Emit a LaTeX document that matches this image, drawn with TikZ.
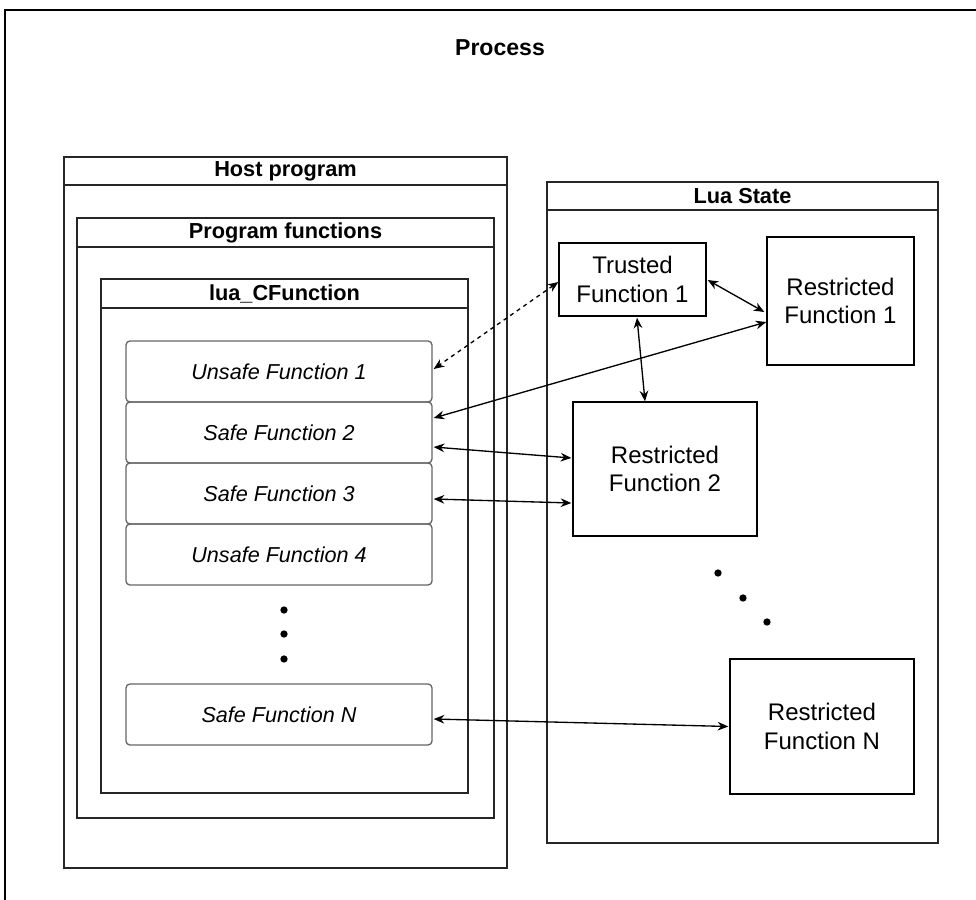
\documentclass[tikz,border=0pt]{standalone}
\usepackage{fontspec}
\setmainfont{Liberation Sans}
\usetikzlibrary{arrows.meta,fit,calc}
\begin{document}
\begin{tikzpicture}[x=0.75pt,y=-0.75pt,
  box/.style={draw=black, line width=1pt, inner sep=0pt},
  lane/.style={draw=black!85, line width=1pt, inner sep=0pt},
  hdrtxt/.style={inner sep=0pt, font=\fontsize{16.3}{19}\selectfont\bfseries},
  fn/.style={draw=black!60, line width=1pt, rounded corners=3pt, inner sep=0pt},
  fntxt/.style={inner sep=0pt, font=\fontsize{16.2}{19}\selectfont\itshape},
  rf/.style={draw=black, line width=1pt, inner sep=0pt},
  rftxt/.style={inner sep=0pt, align=center, font=\fontsize{18}{21.5}\selectfont},
  link/.style={line width=1pt, {Stealth[length=8pt,width=6.5pt]}-{Stealth[length=8pt,width=6.5pt]}},
  blob/.style={circle, fill=black, inner sep=0pt, minimum size=5.5pt}
]
\useasboundingbox (0,0) rectangle (976,900);
\clip (0,0) rectangle (976,900);

% outer process container
\node[box, fit={(5,10) (1000,930)}] (process) {};
\node[inner sep=0pt, font=\fontsize{17.3}{20}\selectfont\bfseries] (ptitle) at (500,48) {Process};

% host program
\node[lane, fit={(64,157) (507,868)}] (host) {};
\node[lane, fit={(64,157) (507,185)}] (hosth) {};
\node[hdrtxt] (hostt) at (hosth.center) {Host program};
% program functions
\node[lane, fit={(77,218) (494,818)}] (pf) {};
\node[lane, fit={(77,218) (494,247)}] (pfh) {};
\node[hdrtxt] (pft) at (pfh.center) {Program functions};
% lua_CFunction
\node[lane, fit={(101,279) (468,793)}] (luacf) {};
\node[lane, fit={(101,279) (468,308)}] (luacfh) {};
\node[hdrtxt] (luacft) at (luacfh.center) {lua\_CFunction};

% functions
\node[fn, fit={(126,341) (432,402)}] (u1) {};
\node[fntxt] at (u1.center) {Unsafe Function 1};
\node[fn, fit={(126,402) (432,463)}] (s2) {};
\node[fntxt] at (s2.center) {Safe Function 2};
\node[fn, fit={(126,463) (432,524)}] (s3) {};
\node[fntxt] at (s3.center) {Safe Function 3};
\node[fn, fit={(126,524) (432,585)}] (u4) {};
\node[fntxt] at (u4.center) {Unsafe Function 4};
\node[fn, fit={(126,684) (432,745)}] (sN) {};
\node[fntxt] at (sN.center) {Safe Function N};

\node[blob] (d1) at (284,610) {};
\node[blob] (d2) at (284,634) {};
\node[blob] (d3) at (284,659) {};

% Lua state
\node[lane, fit={(547,182) (938,843)}] (ls) {};
\node[lane, fit={(547,182) (938,210)}] (lsh) {};
\node[hdrtxt] (lst) at (lsh.center) {Lua State};

\node[rf, fit={(559,243) (706,316)}] (tr) {};
\node[rftxt] at (tr.center) {Trusted\\Function 1};
\node[rf, fit={(767,237) (914,365)}] (r1) {};
\node[rftxt] at (r1.center) {Restricted\\Function 1};
\node[rf, fit={(573,402) (757,536)}] (r2) {};
\node[rftxt] at (r2.center) {Restricted\\Function 2};
\node[rf, fit={(730,659) (914,794)}] (rN) {};
\node[rftxt] at (rN.center) {Restricted\\Function N};

\node[blob] (e1) at (718,573) {};
\node[blob] (e2) at (743,598) {};
\node[blob] (e3) at (767,622) {};

% connectors
\draw[link, dash pattern=on 3pt off 3pt] ($(tr.west)+(0,2.5)$) -- ($(u1.east)+(1,-2.5)$);
\draw[link] ($(s2.east)+(1,-14.5)$) -- ($(r1.west)+(0,21)$);
\draw[link] ($(tr.east)+(1,0.5)$) -- ($(r1.west)+(-2,11)$);
\draw[link] ($(tr.south)+(4.5,1)$) -- ($(r2.north)+(-20,0)$);
\draw[link] ($(s2.east)+(1,14.5)$) -- ($(r2.west)+(-1,-11)$);
\draw[link] ($(s3.east)+(1,5.5)$) -- ($(r2.west)+(-1,34)$);
\draw[link] ($(sN.east)+(1,4.5)$) -- ($(rN.west)+(-1,0)$);
\end{tikzpicture}
\end{document}
